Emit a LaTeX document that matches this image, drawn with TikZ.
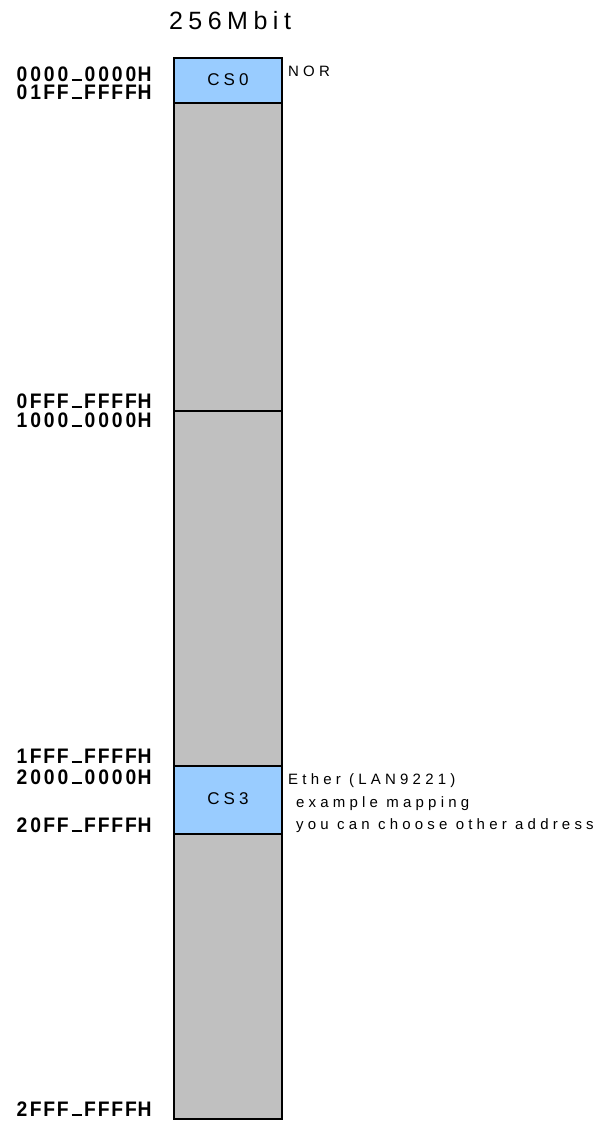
\documentclass[tikz,border=0pt]{standalone}
\usepackage{fontspec}
\setmainfont{Liberation Sans}
\newfontfamily\addrfont[FakeStretch=0.92]{Liberation Sans Bold}
\newfontfamily\titlefont[LetterSpace=22]{Liberation Sans}
\newfontfamily\lblfont[LetterSpace=28]{Liberation Sans}
\newfontfamily\csfont[LetterSpace=24]{Liberation Sans}
\definecolor{csblue}{RGB}{153,204,255}
\definecolor{memgray}{RGB}{192,192,192}
% fixed-pitch setting of address strings
\newcommand\addrus{\rule{10pt}{2.2pt}}
\newcommand\addrcell[1]{\makebox[13.6pt]{#1}}
\def\addrmono#1{\addrmonoi#1\relax}
\def\addrmonoi#1{\ifx#1\relax\else\addrcell{#1}\expandafter\addrmonoi\fi}
\tikzset{
  addr/.style={anchor=base east, inner sep=0pt, text depth=0pt, font=\addrfont\fontsize{21}{21}\selectfont},
  lbl/.style={anchor=base west, inner sep=0pt, font=\lblfont\fontsize{15}{15}\selectfont},
  cslbl/.style={anchor=base, inner sep=0pt, font=\csfont\fontsize{17}{17}\selectfont},
  region/.style={draw=black, line width=1.5pt},
  divider/.style={line width=1.2pt}
}
\begin{document}
\begin{tikzpicture}[x=1pt,y=-1pt]
\useasboundingbox (0,0) rectangle (600,1122);
% regions
\fill[memgray] (174,58) rectangle (282,1119);
\fill[csblue] (174,58) rectangle (282,103);
\fill[csblue] (174,766) rectangle (282,834);
\draw[divider] (174,103) -- (282,103);
\draw[divider] (174,411) -- (282,411);
\draw[divider] (174,766) -- (282,766);
\draw[divider] (174,834) -- (282,834);
\draw[region] (174,58) rectangle (282,1119);
% title
\node[inner sep=0pt, font=\titlefont\fontsize{25}{25}\selectfont] (title) at (230,21) {256Mbit};
% box labels
\node[cslbl] (cs0) at (228,85) {CS0};
\node[cslbl] (cs3) at (228,804) {CS3};
% address labels
\node[addr] (a1) at (151.5,81) {\addrmono{0000\addrus0000H}};
\node[addr] (a2) at (151.5,99) {\addrmono{01FF\addrus FFFFH}};
\node[addr] (a3) at (151.5,408) {\addrmono{0FFF\addrus FFFFH}};
\node[addr] (a4) at (151.5,427) {\addrmono{1000\addrus0000H}};
\node[addr] (a5) at (151.5,763) {\addrmono{1FFF\addrus FFFFH}};
\node[addr] (a6) at (151.5,784) {\addrmono{2000\addrus0000H}};
\node[addr] (a7) at (151.5,832) {\addrmono{20FF\addrus FFFFH}};
\node[addr] (a8) at (151.5,1116) {\addrmono{2FFF\addrus FFFFH}};
% side notes
\node[lbl] (nor) at (288,76) {NOR};
\node[lbl] (eth) at (288,784) {Ether (LAN9221)};
\node[lbl] (ex) at (296,807) {example mapping};
\node[lbl] (you) at (296,829) {you can choose other address};
\end{tikzpicture}
\end{document}
